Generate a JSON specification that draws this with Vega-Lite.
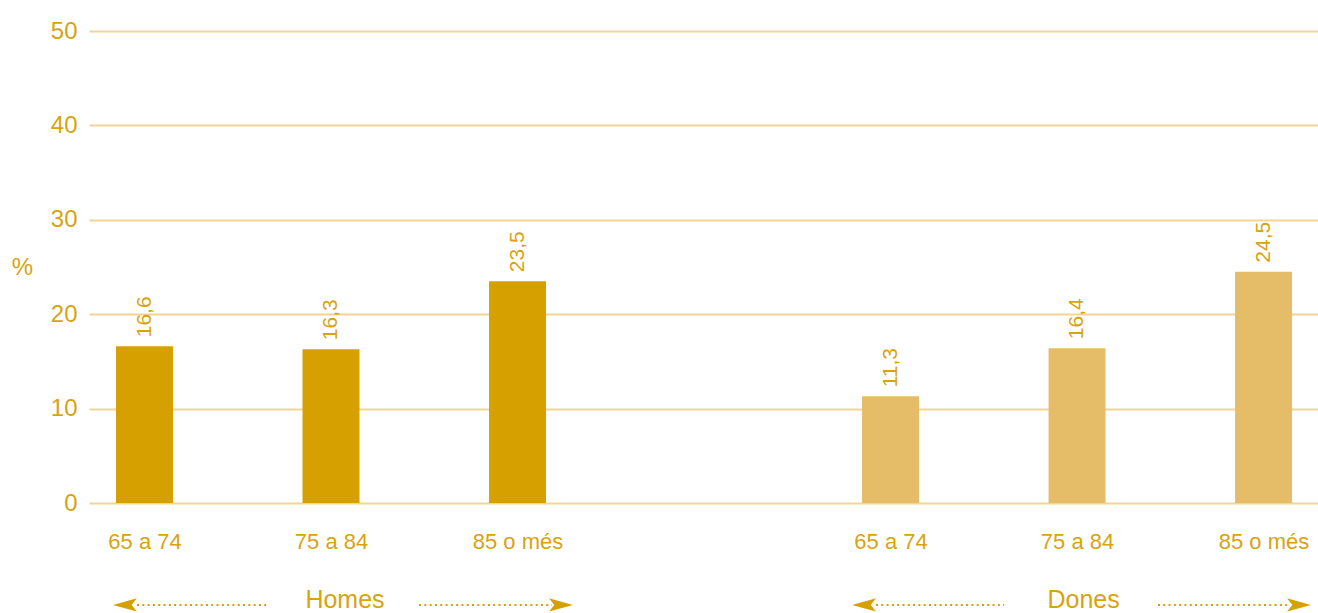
{
  "$schema": "https://vega.github.io/schema/vega-lite/v6.json",
  "autosize": {"type": "none"},
  "width": 1229,
  "height": 472,
  "padding": {"left": 89, "top": 31, "right": 0, "bottom": 110},
  "background": "white",
  "config": {
    "view": {"stroke": null},
    "font": "Liberation Sans",
    "locale": {"number": {"decimal": ",", "thousands": ".", "grouping": [3], "currency": ["", " €"]}}
  },
  "datasets": {
    "bars": [
      {"group": "Homes", "age": "65 a 74", "slot": 1, "value": 16.6},
      {"group": "Homes", "age": "75 a 84", "slot": 2, "value": 16.3},
      {"group": "Homes", "age": "85 o més", "slot": 3, "value": 23.5},
      {"group": "Dones", "age": "65 a 74", "slot": 5, "value": 11.3},
      {"group": "Dones", "age": "75 a 84", "slot": 6, "value": 16.4},
      {"group": "Dones", "age": "85 o més", "slot": 7, "value": 24.5}
    ],
    "arrows": [
      {"group": "Homes", "dir": "left", "head": 0.895, "from": 0.96, "to": 1.652},
      {"group": "Homes", "dir": "right", "head": 3.233, "from": 2.472, "to": 3.185},
      {"group": "Dones", "dir": "left", "head": 4.858, "from": 4.922, "to": 5.609},
      {"group": "Dones", "dir": "right", "head": 7.19, "from": 6.434, "to": 7.126}
    ],
    "groups": [
      {"group": "Homes", "center": 2.075},
      {"group": "Dones", "center": 6.035}
    ]
  },
  "layer": [
    {
      "data": {"name": "bars"},
      "mark": {"type": "bar", "size": 57},
      "encoding": {
        "x": {
          "field": "slot", "type": "quantitative",
          "scale": {"domain": [0.7024, 7.292], "nice": false, "zero": false, "padding": 0},
          "axis": {
            "values": [1, 2, 3, 5, 6, 7],
            "labelExpr": "datum.value % 4 == 1 ? '65 a 74' : datum.value % 4 == 2 ? '75 a 84' : '85 o més'",
            "title": null, "grid": false, "domain": false, "ticks": false,
            "labelFont": "Liberation Sans", "labelFontSize": 22, "labelColor": "#d9a30f",
            "labelPadding": 28
          }
        },
        "y": {
          "field": "value", "type": "quantitative",
          "scale": {"domain": [0, 50], "nice": false, "zero": true, "padding": 0},
          "axis": {
            "values": [0, 10, 20, 30, 40, 50],
            "title": "%", "titleAngle": 0, "titleX": -67, "titleY": 236,
            "titleAlign": "center", "titleBaseline": "middle",
            "titleFont": "Liberation Sans", "titleFontSize": 24, "titleFontWeight": "normal", "titleColor": "#d9a30f",
            "grid": true, "gridColor": "#f2d594", "gridWidth": 2,
            "domain": false, "ticks": false,
            "labelFont": "Liberation Sans", "labelFontSize": 24, "labelColor": "#d9a30f",
            "labelPadding": 12
          }
        },
        "color": {
          "field": "group", "type": "nominal",
          "scale": {"domain": ["Homes", "Dones"], "range": ["#d6a000", "#e5bd69"]},
          "legend": null
        }
      }
    },
    {
      "data": {"name": "bars"},
      "mark": {"type": "text", "angle": 270, "align": "left", "baseline": "middle", "dx": 9, "fontSize": 21, "font": "Liberation Sans", "color": "#d9a30f"},
      "encoding": {
        "x": {"field": "slot", "type": "quantitative", "scale": {"domain": [0.7024, 7.292], "nice": false, "zero": false, "padding": 0}},
        "y": {"field": "value", "type": "quantitative", "scale": {"domain": [0, 50], "nice": false, "padding": 0}},
        "text": {"field": "value", "type": "quantitative", "format": ".1f"}
      }
    },
    {
      "data": {"name": "arrows"},
      "mark": {"type": "rule", "strokeWidth": 2, "strokeDash": [2, 3.3], "color": "#d6a000"},
      "encoding": {
        "x": {"field": "from", "type": "quantitative", "scale": {"domain": [0.7024, 7.292], "nice": false, "zero": false, "padding": 0}},
        "x2": {"field": "to"},
        "y": {"datum": -10.8, "type": "quantitative", "scale": {"domain": [0, 50], "nice": false, "padding": 0}}
      }
    },
    {
      "data": {"name": "arrows"},
      "transform": [{"filter": "datum.dir == 'left'"}],
      "mark": {"type": "point", "filled": true, "opacity": 1, "size": 576, "strokeWidth": 0, "color": "#d6a000", "shape": "M-1,0L1,-0.55L0.55,0L1,0.55Z"},
      "encoding": {
        "x": {"field": "head", "type": "quantitative", "scale": {"domain": [0.7024, 7.292], "nice": false, "zero": false, "padding": 0}},
        "y": {"datum": -10.8, "type": "quantitative", "scale": {"domain": [0, 50], "nice": false, "padding": 0}}
      }
    },
    {
      "data": {"name": "arrows"},
      "transform": [{"filter": "datum.dir == 'right'"}],
      "mark": {"type": "point", "filled": true, "opacity": 1, "size": 576, "strokeWidth": 0, "color": "#d6a000", "shape": "M1,0L-1,-0.55L-0.55,0L-1,0.55Z"},
      "encoding": {
        "x": {"field": "head", "type": "quantitative", "scale": {"domain": [0.7024, 7.292], "nice": false, "zero": false, "padding": 0}},
        "y": {"datum": -10.8, "type": "quantitative", "scale": {"domain": [0, 50], "nice": false, "padding": 0}}
      }
    },
    {
      "data": {"name": "groups"},
      "mark": {"type": "text", "align": "center", "baseline": "alphabetic", "dy": 3, "fontSize": 25, "font": "Liberation Sans", "color": "#d9a30f"},
      "encoding": {
        "x": {"field": "center", "type": "quantitative", "scale": {"domain": [0.7024, 7.292], "nice": false, "zero": false, "padding": 0}},
        "y": {"datum": -10.8, "type": "quantitative", "scale": {"domain": [0, 50], "nice": false, "padding": 0}},
        "text": {"field": "group"}
      }
    }
  ]
}
